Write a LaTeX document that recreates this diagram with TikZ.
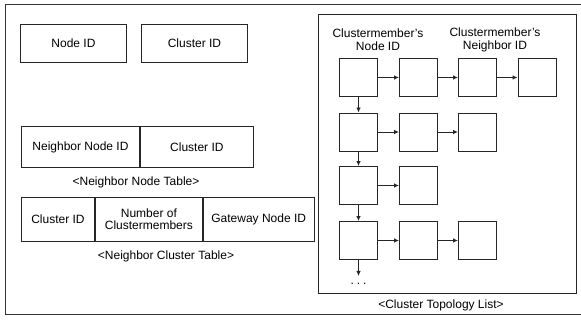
\documentclass[tikz,border=0pt]{standalone}
\usepackage{fontspec}
\setmainfont{Liberation Sans}
\usetikzlibrary{arrows.meta}
\begin{document}
\begin{tikzpicture}[x=1pt,y=-1pt,
  font=\fontsize{12}{14}\selectfont,
  cell/.style={draw=black!85,line width=0.9pt,minimum height=#1,inner sep=0pt,anchor=north west},
  sq/.style={draw=black!85,line width=0.9pt,minimum width=38pt,minimum height=38pt,inner sep=0pt},
  lbl/.style={inner sep=0pt},
  arr/.style={draw=black!85,line width=0.9pt,-{Latex[length=5pt,width=4.5pt]}}]
\useasboundingbox (0,0) rectangle (581,320);
% outer frame
\draw[black!80,line width=0.8pt] (590,4) -- (5,4) -- (5,314) -- (590,314);
% Node / Cluster ID
\node[cell=38pt,minimum width=106pt] (nid) at (20,24) {Node ID};
\node[cell=38pt,minimum width=106pt] (cid) at (141,24) {Cluster ID};
% Neighbor node table
\node[cell=41pt,minimum width=118pt] (nnid) at (21,126) {Neighbor Node ID};
\node[cell=41pt,minimum width=113pt] (nncid) at (nnid.north east) {Cluster ID};
\node[lbl] (nnl) at (136,182) {<Neighbor Node Table>};
% Neighbor cluster table
\node[cell=44pt,minimum width=73pt] (nccid) at (21,197) {Cluster ID};
\node[cell=44pt,minimum width=107pt,align=center] (ncnum) at (nccid.north east) {Number of\\[-2pt]Clustermembers};
\node[cell=44pt,minimum width=111pt] (ncgw) at (ncnum.north east) {Gateway Node ID};
\node[lbl] (ncl) at (166,256) {<Neighbor Cluster Table>};
% Cluster topology list
\node[draw=black!85,line width=0.9pt,minimum width=258pt,minimum height=279pt,inner sep=0pt,anchor=north west] (frame) at (318,14) {};
\node[lbl] (ctl) at (441,305) {<Cluster Topology List>};
\node[lbl,align=center] (h1) at (378,40) {Clustermember's\\[-1pt]Node ID};
\node[lbl,align=center] (h2) at (495,40) {Clustermember's\\[-1pt]Neighbor ID};
% row 1
\node[sq] (a1) at (358.5,77.5) {};
\node[sq] (a2) at (418.5,77.5) {};
\node[sq] (a3) at (477.5,77.5) {};
\node[sq] (a4) at (537,77.5) {};
% row 2
\node[sq] (b1) at (358.5,132) {};
\node[sq] (b2) at (418.5,132) {};
\node[sq] (b3) at (477.5,132) {};
% row 3
\node[sq] (c1) at (358.5,185.5) {};
\node[sq] (c2) at (418.5,185.5) {};
% row 4
\node[sq] (d1) at (358.5,240.5) {};
\node[sq] (d2) at (418.5,240.5) {};
\node[sq] (d3) at (477.5,240.5) {};
\coordinate (dend) at (358.5,276);
\node[lbl] (dots) at (358.5,284) {.\hspace{3pt}.\hspace{3pt}.};
% arrows
\draw[arr] (a1) -- (a2);
\draw[arr] (a2) -- (a3);
\draw[arr] (a3) -- (a4);
\draw[arr] (b1) -- (b2);
\draw[arr] (b2) -- (b3);
\draw[arr] (c1) -- (c2);
\draw[arr] (d1) -- (d2);
\draw[arr] (d2) -- (d3);
\draw[arr] (a1) -- (b1);
\draw[arr] (b1) -- (c1);
\draw[arr] (c1) -- (d1);
\draw[arr] (d1) -- (dend);
\end{tikzpicture}
\end{document}
